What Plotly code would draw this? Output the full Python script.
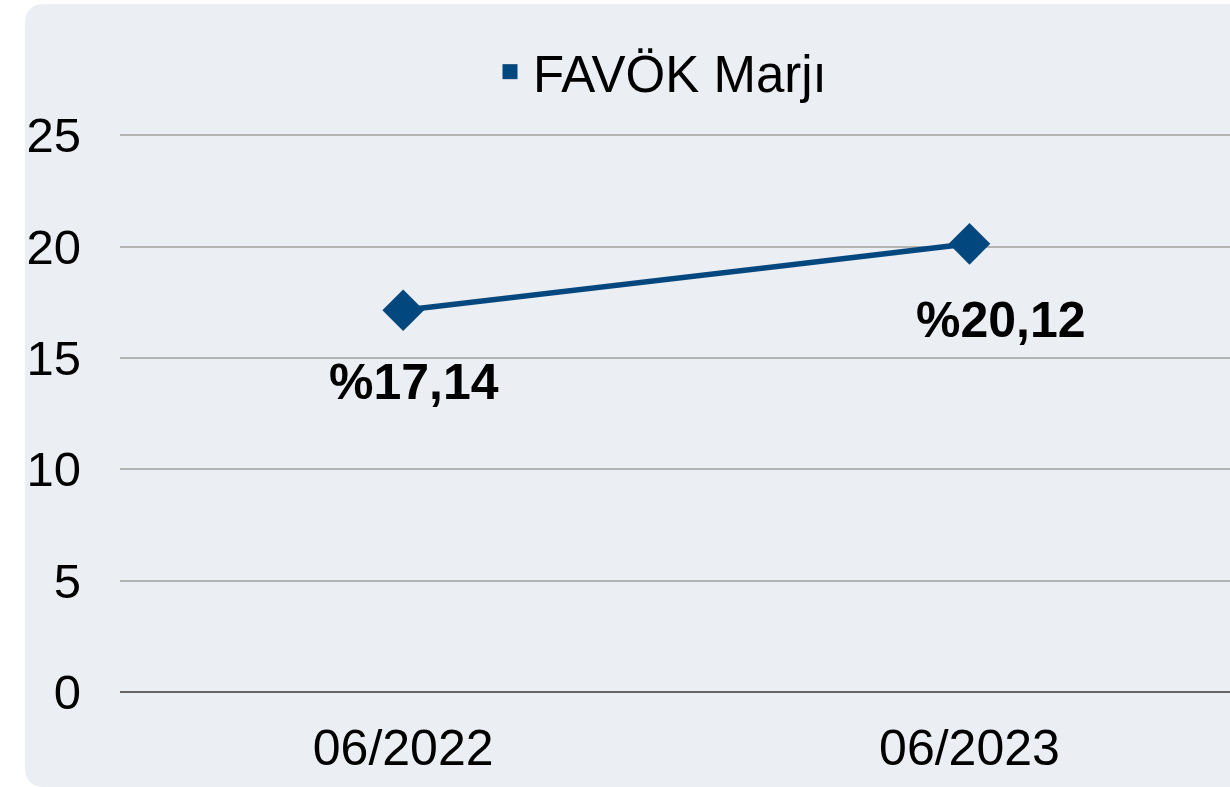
import plotly.graph_objects as go

categories = ["06/2022", "06/2023"]
values = [17.14, 20.12]
labels = ["%17,14", "%20,12"]
series_name = "FAVÖK Marjı"
y_ticks = [0, 5, 10, 15, 20, 25]

W, H = 1230, 787
L, R, T, B = 120, 0, 124, 95
PW, PH = W - L - R, H - T - B

def px(x):
    return (x - L) / PW

def py(y):
    return (H - B - y) / PH

BLUE = "#03477f"
BG = "#EBEEF2"
FONT = "Liberation Sans, Arial, sans-serif"

fig = go.Figure()
fig.add_trace(go.Scatter(
    x=categories, y=values, mode="lines+markers",
    line=dict(color=BLUE, width=5.5),
    marker=dict(symbol="diamond", size=32, color=BLUE),
    showlegend=False, cliponaxis=False, hoverinfo="skip",
))
fig.add_trace(go.Scatter(
    x=[None], y=[None], mode="markers", name=series_name,
    marker=dict(symbol="square", size=15, color=BLUE),
    showlegend=True, hoverinfo="skip",
))

offsets = [(11, -72), (32, -76)]
for c, v, t, (dx, dy) in zip(categories, values, labels, offsets):
    fig.add_annotation(x=c, y=v, text=t, showarrow=False,
                       xshift=dx, yshift=dy,
                       font=dict(family=FONT, size=50, color="black", weight="bold"))

# rounded background panel
x0, x1, y0, y1, r = 25, 1260, 4, 787, 20
path = (f"M {px(x0+r)},{py(y0)} L {px(x1)},{py(y0)} L {px(x1)},{py(y1)} "
        f"L {px(x0+r)},{py(y1)} Q {px(x0)},{py(y1)} {px(x0)},{py(y1-r)} "
        f"L {px(x0)},{py(y0+r)} Q {px(x0)},{py(y0)} {px(x0+r)},{py(y0)} Z")
fig.add_shape(type="path", path=path, xref="paper", yref="paper",
              fillcolor=BG, line=dict(width=0), layer="below")

fig.update_layout(
    width=W, height=H,
    margin=dict(l=L, r=R, t=T, b=B, pad=0),
    paper_bgcolor="white", plot_bgcolor="rgba(0,0,0,0)",
    font=dict(family=FONT, size=49, color="black"),
    hovermode=False,
    legend=dict(x=px(487), xanchor="left", y=py(72), yanchor="middle",
                orientation="h", bgcolor="rgba(0,0,0,0)", itemwidth=36,
                font=dict(family=FONT, size=51, color="black")),
    xaxis=dict(type="category", range=[-0.5, 1.46], showgrid=False,
               zeroline=False, showline=False, ticks="",
               tickfont=dict(family=FONT, size=50),
               ticklabelstandoff=22),
    yaxis=dict(range=[0, 25.5], tickvals=y_ticks, showgrid=True,
               gridcolor="#b3b3b3", gridwidth=1.5,
               zeroline=True, zerolinecolor="#666666", zerolinewidth=2,
               showline=False, ticks="",
               tickfont=dict(family=FONT, size=49),
               ticklabelstandoff=38),
)

fig.write_html("out.html", config={"displayModeBar": False},
               post_script="document.body.style.margin='0';")
